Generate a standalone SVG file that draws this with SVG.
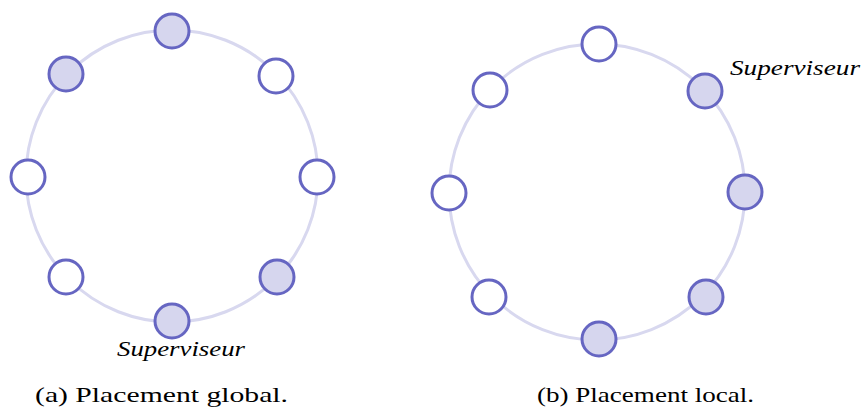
<svg xmlns="http://www.w3.org/2000/svg" width="861" height="409" viewBox="0 0 861 409">
<style>
.ring{fill:none;stroke:#d8d8ef;stroke-width:3}
.n{stroke:#6666c2;stroke-width:3;fill:#fff}
.f{fill:#d6d6ee}
</style>
<g id="connectors">
<circle class="ring" cx="172" cy="176" r="146"/>
<circle class="ring" cx="597" cy="192" r="148"/>
</g>
<g id="a-n1"><circle class="n f" cx="172" cy="31" r="17"/></g>
<g id="a-n2"><circle class="n" cx="276" cy="76" r="17"/></g>
<g id="a-n3"><circle class="n" cx="317" cy="177" r="17"/></g>
<g id="a-n4"><circle class="n f" cx="277" cy="277" r="17"/></g>
<g id="a-n5"><circle class="n f" cx="172" cy="321" r="17"/></g>
<g id="a-n6"><circle class="n" cx="66" cy="277" r="17"/></g>
<g id="a-n7"><circle class="n" cx="28" cy="177" r="17"/></g>
<g id="a-n8"><circle class="n f" cx="66" cy="74" r="17"/></g>
<g id="b-n1"><circle class="n" cx="599" cy="44" r="17"/></g>
<g id="b-n2"><circle class="n f" cx="705" cy="91" r="17"/></g>
<g id="b-n3"><circle class="n f" cx="745" cy="192" r="17"/></g>
<g id="b-n4"><circle class="n f" cx="706" cy="297" r="17"/></g>
<g id="b-n5"><circle class="n f" cx="599" cy="339" r="17"/></g>
<g id="b-n6"><circle class="n" cx="489" cy="297" r="17"/></g>
<g id="b-n7"><circle class="n" cx="449" cy="193" r="17"/></g>
<g id="b-n8"><circle class="n" cx="490" cy="90" r="17"/></g>
<g font-family="Liberation Serif, serif" font-size="21" fill="#000">
<text font-style="italic" x="117" y="356" textLength="128" lengthAdjust="spacingAndGlyphs">Superviseur</text>
<text font-style="italic" x="730" y="75" textLength="130" lengthAdjust="spacingAndGlyphs">Superviseur</text>
<text x="35" y="402" textLength="253" lengthAdjust="spacingAndGlyphs">(a) Placement global.</text>
<text x="537" y="402" textLength="217" lengthAdjust="spacingAndGlyphs">(b) Placement local.</text>
</g>
</svg>
